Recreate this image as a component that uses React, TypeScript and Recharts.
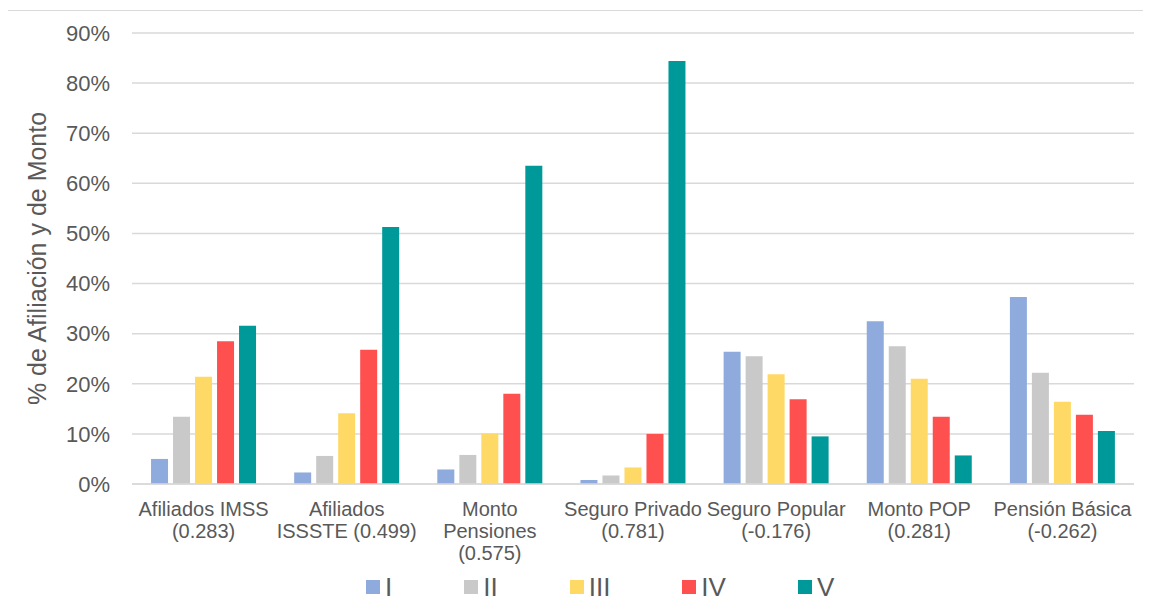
import React from 'react';
import { BarChart, Bar, XAxis, YAxis, CartesianGrid, Legend } from 'recharts';

const categories = [
  'Afiliados IMSS\n(0.283)',
  'Afiliados\nISSSTE (0.499)',
  'Monto\nPensiones\n(0.575)',
  'Seguro Privado\n(0.781)',
  'Seguro Popular\n(-0.176)',
  'Monto POP\n(0.281)',
  'Pensión Básica\n(-0.262)',
];
const serieI = [5.0, 2.3, 2.9, 0.8, 26.4, 32.5, 37.3];
const serieII = [13.4, 5.6, 5.8, 1.7, 25.5, 27.5, 22.2];
const serieIII = [21.4, 14.1, 10.1, 3.3, 21.9, 21.0, 16.4];
const serieIV = [28.5, 26.8, 18.0, 10.0, 16.9, 13.4, 13.8];
const serieV = [31.6, 51.3, 63.5, 84.4, 9.5, 5.7, 10.6];
const seriesNames = ['I', 'II', 'III', 'IV', 'V'];
const seriesColors = ['#8FAADC', '#C9C9C9', '#FFD966', '#FF5050', '#009999'];
const yTicks = [0, 10, 20, 30, 40, 50, 60, 70, 80, 90];
const yTitle = '% de Afiliación y de Monto';

const seriesValues = [serieI, serieII, serieIII, serieIV, serieV];
const data = categories.map((c, i) => {
  const row: Record<string, any> = { name: c };
  seriesNames.forEach((s, k) => {
    row[s] = seriesValues[k][i];
  });
  return row;
});

const FONT = '"Liberation Sans", Arial, sans-serif';
const TEXT = '#595959';

const XTick = (props: any) => {
  const { x, y, payload } = props;
  const lines = String(payload.value).split('\n');
  return (
    <text x={x} y={y} textAnchor="middle" fill={TEXT} fontSize={20} fontFamily={FONT}>
      {lines.map((l, i) => (
        <tspan key={i} x={x} dy={i === 0 ? 32 : 22}>
          {l}
        </tspan>
      ))}
    </text>
  );
};

const LegendContent = (props: any) => {
  const payload = props.payload || [];
  return (
    <div style={{ display: 'flex', alignItems: 'center', paddingLeft: 366, fontFamily: FONT }}>
      {payload.map((p: any, i: number) => (
        <div key={i} style={{ display: 'flex', alignItems: 'center', marginRight: 72 }}>
          <div style={{ width: 14, height: 14, background: p.color, marginRight: 5 }} />
          <span style={{ fontSize: 26, color: TEXT, lineHeight: '30px' }}>{p.value}</span>
        </div>
      ))}
    </div>
  );
};

const YTitle = (props: any) => {
  const vb = props.viewBox || {};
  const cy = vb.y + vb.height / 2;
  const cx = 37;
  return (
    <text
      x={cx}
      y={cy}
      transform={`rotate(-90, ${cx}, ${cy})`}
      textAnchor="middle"
      dominantBaseline="central"
      fill={TEXT}
      fontSize={25}
      fontFamily={FONT}
    >
      {yTitle}
    </text>
  );
};

export default function App() {
  return (
    <div
      style={{
        position: 'relative',
        width: 1151,
        height: 610,
        marginLeft: -8,
        marginTop: -8,
        overflow: 'hidden',
        background: '#fff',
      }}
    >
      <div
        style={{
          position: 'absolute',
          left: 7,
          top: 10,
          width: 1160,
          height: 620,
          border: '1px solid #d9d9d9',
          boxSizing: 'border-box',
        }}
      />
      <div style={{ position: 'absolute', left: 0, top: 0 }}>
        <BarChart
          width={1151}
          height={610}
          data={data}
          margin={{ top: 33, right: 17, bottom: 0, left: 0 }}
          barCategoryGap="13.3%"
          barGap={5}
        >
          <CartesianGrid vertical={false} stroke="#d9d9d9" strokeWidth={1.5} />
          <XAxis
            dataKey="name"
            interval={0}
            tick={<XTick />}
            tickLine={false}
            tickSize={0}
            tickMargin={0}
            axisLine={{ stroke: '#d9d9d9', strokeWidth: 1.5 }}
            height={126}
          />
          <YAxis
            width={132}
            domain={[0, 90]}
            ticks={yTicks}
            interval={0}
            tickFormatter={(v: number) => `${v}%`}
            tickLine={false}
            axisLine={false}
            tickSize={0}
            tickMargin={22}
            tick={{ fill: TEXT, fontSize: 22, fontFamily: FONT }}
            label={<YTitle />}
          />
          <Legend
            layout="horizontal"
            verticalAlign="middle"
            align="center"
            content={<LegendContent />}
            wrapperStyle={{ top: 572, left: 0, width: 1151, height: 30 }}
          />
          {seriesNames.map((s, k) => (
            <Bar key={s} dataKey={s} fill={seriesColors[k]} isAnimationActive={false} />
          ))}
        </BarChart>
      </div>
    </div>
  );
}
